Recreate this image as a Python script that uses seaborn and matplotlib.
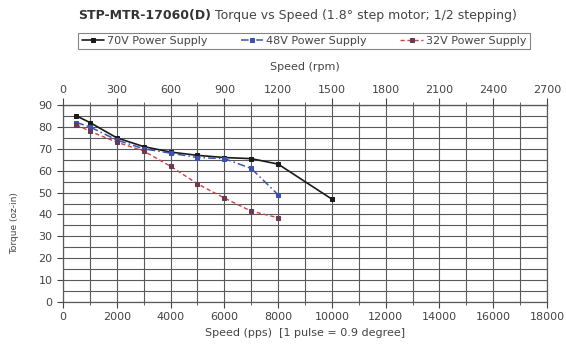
import numpy as np
import pandas as pd
import matplotlib.pyplot as plt
import seaborn as sns
from matplotlib.ticker import MultipleLocator

# speed in pulses per second (1 pulse = 0.9 degree -> 400 pulses / rev)
speed_70v = [500, 1000, 2000, 3000, 4000, 5000, 6000, 7000, 8000, 10000]
torque_70v = [85, 82, 75, 71, 68.5, 67, 66, 65.5, 63, 47]

speed_48v = [500, 1000, 2000, 3000, 4000, 5000, 6000, 7000, 8000]
torque_48v = [82, 80, 74, 70, 68, 66, 65.5, 61, 49]

speed_32v = [500, 1000, 2000, 3000, 4000, 5000, 6000, 7000, 8000]
torque_32v = [81, 78, 73, 69, 62, 54, 47.5, 41.5, 38.5]

series_names = ["70V Power Supply", "48V Power Supply", "32V Power Supply"]
rpm_ticks = [0, 300, 600, 900, 1200, 1500, 1800, 2100, 2400, 2700]

sns.set_style("white")
plt.rcParams['font.family'] = ['DejaVu Sans']
fs = 8

df = pd.concat([
    pd.DataFrame({"speed": speed_70v, "torque": torque_70v, "supply": series_names[0]}),
    pd.DataFrame({"speed": speed_48v, "torque": torque_48v, "supply": series_names[1]}),
    pd.DataFrame({"speed": speed_32v, "torque": torque_32v, "supply": series_names[2]}),
])

fig = plt.figure(figsize=(5.66, 3.49), dpi=100)
ax = fig.add_axes([63 / 566, 1 - 302 / 349, (547 - 63) / 566, (302 - 105) / 349])

styles = {
    series_names[0]: dict(color="#1a1a1a", ls="-", lw=1.2, mfc="#1a1a1a", mec="#1a1a1a"),
    series_names[1]: dict(color="#3a52b0", ls=(0, (5, 2, 1, 2)), lw=1.1, mfc="#3a52b0", mec="#3a52b0"),
    series_names[2]: dict(color="#d04040", ls=(0, (3, 2)), lw=1.0, mfc="#6a3a50", mec="#6a3a50"),
}
for name in series_names:
    st = styles[name]
    sns.lineplot(data=df[df["supply"] == name], x="speed", y="torque", ax=ax,
                 color=st["color"], linestyle=st["ls"], linewidth=st["lw"],
                 marker="s", markersize=2.5, markerfacecolor=st["mfc"],
                 markeredgecolor=st["mec"], label=name, legend=False)

ax.set_xlim(0, 18000)
ax.set_ylim(0, 90)
ax.xaxis.set_major_locator(MultipleLocator(2000))
ax.xaxis.set_minor_locator(MultipleLocator(1000))
ax.yaxis.set_major_locator(MultipleLocator(10))
ax.yaxis.set_minor_locator(MultipleLocator(5))
ax.grid(which="both", color="#5a5a5a", lw=0.8)
for s in ax.spines.values():
    s.set_color("#5a5a5a")
    s.set_linewidth(0.9)
ax.tick_params(which="major", length=4, color="#444", labelsize=fs, labelcolor="#444", direction="out")
ax.tick_params(which="minor", length=2, color="#444", direction="out")
ax.tick_params(axis="both", which="major", bottom=True, left=True)
ax.tick_params(axis="x", which="minor", bottom=True)

ax.set_xlabel("Speed (pps)  [1 pulse = 0.9 degree]", fontsize=fs, color="#444", labelpad=4)
ax.set_ylabel("Torque (oz-in)", fontsize=6.5, color="#444")
ax.yaxis.set_label_coords(-0.09, 0.4)

secax = ax.secondary_xaxis("top", functions=(lambda p: p * 60 / 400, lambda r: r * 400 / 60))
secax.set_xticks(rpm_ticks)
secax.xaxis.set_minor_locator(MultipleLocator(150))
secax.tick_params(which="major", length=5, color="#444", labelsize=fs, labelcolor="#444", pad=2)
secax.tick_params(which="minor", length=2, color="#444")
secax.spines["top"].set_color("#5a5a5a")
secax.set_xlabel("Speed (rpm)", fontsize=fs, color="#444", labelpad=11)

# title: bold part followed by normal part, placed side by side
tfs = 9
renderer = fig.canvas.get_renderer()
t1 = fig.text(78 / 566, 1 - 15 / 349, "STP-MTR-17060(D)", fontsize=tfs, fontweight="bold",
              color="#333", ha="left", va="center")
w1 = t1.get_window_extent(renderer).width
fig.text((78 + w1 + 4) / 566, 1 - 15 / 349, "Torque vs Speed (1.8\u00b0 step motor; 1/2 stepping)",
         fontsize=tfs, color="#444", ha="left", va="center")

handles, labels = ax.get_legend_handles_labels()
leg = fig.legend(handles, labels, ncol=3, loc="center", bbox_to_anchor=(304 / 566, 1 - 41 / 349),
                 fontsize=fs, frameon=True, fancybox=False, edgecolor="#666",
                 handlelength=2.0, handletextpad=0.3, columnspacing=3.0,
                 borderpad=0.3, borderaxespad=0, labelcolor="#444")
leg.get_frame().set_linewidth(0.8)

fig.savefig("out.png", dpi=100)
